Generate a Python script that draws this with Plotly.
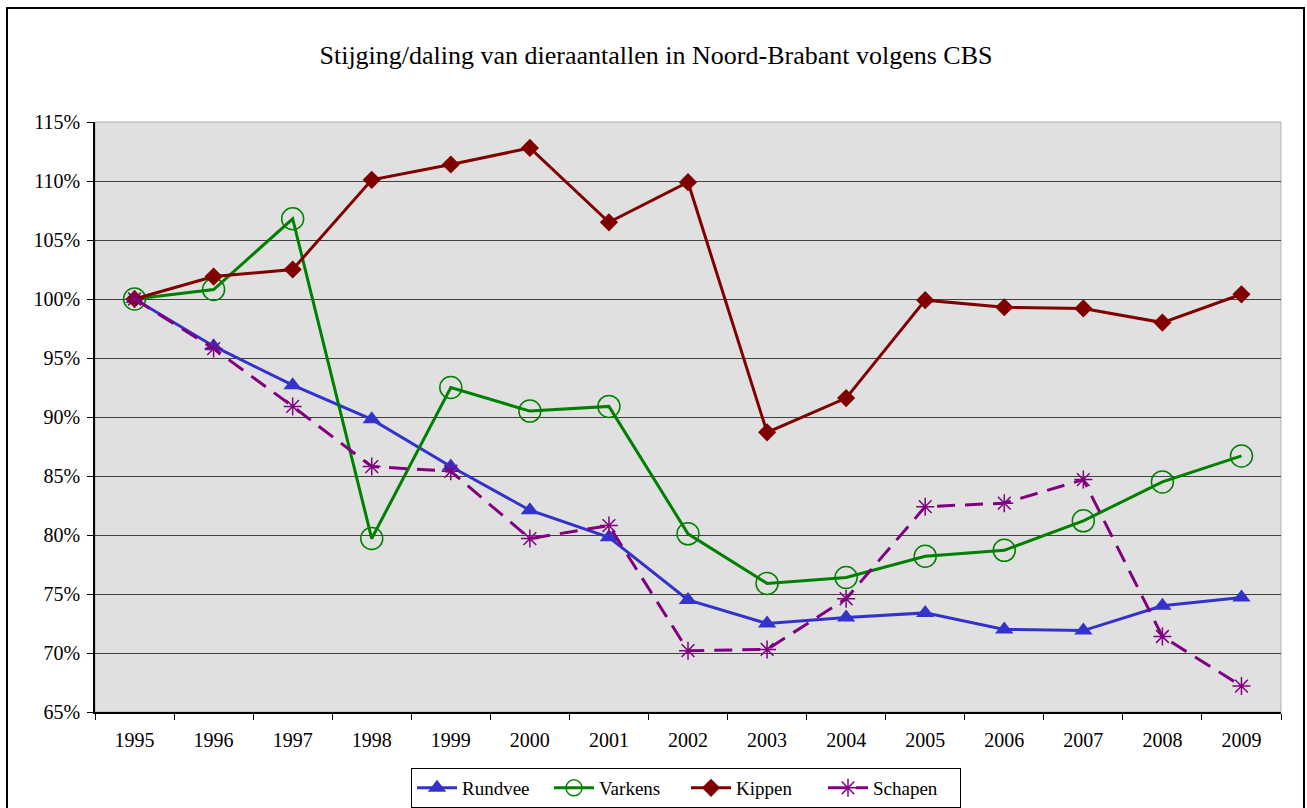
import plotly.graph_objects as go

years = [str(y) for y in range(1995, 2010)]
rundvee = [100, 96.0, 92.7, 89.8, 85.8, 82.1, 79.8, 74.5, 72.5, 73.0, 73.4, 72.0, 71.9, 74.0, 74.7]
varkens = [100, 100.8, 106.8, 79.7, 92.5, 90.5, 90.9, 80.1, 75.9, 76.4, 78.2, 78.7, 81.2, 84.5, 86.7]
kippen = [100, 101.9, 102.5, 110.1, 111.4, 112.8, 106.5, 109.9, 88.7, 91.6, 99.9, 99.3, 99.2, 98.0, 100.4]
schapen = [100, 95.8, 90.9, 85.8, 85.4, 79.7, 80.8, 70.2, 70.3, 74.6, 82.4, 82.7, 84.7, 71.4, 67.2]
y_ticks = [65, 70, 75, 80, 85, 90, 95, 100, 105, 110, 115]
y_labels = [f"{v}%" for v in y_ticks]

FONT = "Liberation Serif"

fig = go.Figure()
fig.add_trace(go.Scatter(x=years, y=rundvee, name="Rundvee", mode="lines+markers",
                         line=dict(color="#3333CC", width=3),
                         marker=dict(symbol="triangle-up", size=16, color="#3333CC")))
fig.add_trace(go.Scatter(x=years, y=varkens, name="Varkens", mode="lines+markers",
                         line=dict(color="#008000", width=3),
                         marker=dict(symbol="circle-open", size=22, color="#008000", line=dict(width=1.5))))
fig.add_trace(go.Scatter(x=years, y=kippen, name="Kippen", mode="lines+markers",
                         line=dict(color="#800000", width=3),
                         marker=dict(symbol="diamond", size=14, color="#800000")))
fig.add_trace(go.Scatter(x=years, y=schapen, name="Schapen", mode="lines+markers",
                         line=dict(color="#800080", width=3, dash="18px,10px"),
                         marker=dict(symbol="asterisk-open", size=15, color="#800080", line=dict(width=1.5, color="#800080"))))

W, H = 1307, 808
L, R, T, B = 95, 1281, 122, 712

def px_x(px):
    return (px - L) / (R - L)

def px_y(py):
    return (B - py) / (B - T)

fig.update_layout(
    width=W, height=H,
    margin=dict(l=L, r=W - R, t=T, b=H - B, autoexpand=False),
    paper_bgcolor="white",
    plot_bgcolor="#E0E0E0",
    font=dict(family=FONT, size=20, color="black"),
    title=dict(text="Stijging/daling van dieraantallen in Noord-Brabant volgens CBS",
               x=px_x(656), xref="paper", xanchor="center", y=1 - 55 / H, yanchor="middle",
               font=dict(family=FONT, size=26, color="black")),
    showlegend=True,
    legend=dict(orientation="h", x=px_x(686), xanchor="center", y=px_y(768), yanchor="top",
                bordercolor="black", borderwidth=1, bgcolor="white",
                font=dict(family=FONT, size=19), itemwidth=40, tracegroupgap=0,
                entrywidth=82, entrywidthmode="pixels"),
    xaxis=dict(type="category", range=[-0.5, 14.5], showgrid=False,
               showline=True, linecolor="black", linewidth=1.5,
               ticks="outside", tickson="boundaries", ticklen=6, tickcolor="black",
               ticklabelstandoff=9,
               tickfont=dict(family=FONT, size=20), mirror=False, zeroline=False),
    yaxis=dict(range=[65, 115], tickvals=y_ticks, ticktext=y_labels,
               showgrid=True, gridcolor="#404040", gridwidth=1,
               showline=True, linecolor="black", linewidth=1.5,
               ticks="outside", ticklen=6, tickcolor="black",
               ticklabelstandoff=3,
               tickfont=dict(family=FONT, size=20), zeroline=False),
    shapes=[
        dict(type="rect", xref="paper", yref="paper", x0=0, x1=1, y0=0, y1=1,
             line=dict(color="#B0B0B0", width=1), fillcolor="rgba(0,0,0,0)", layer="below"),
        dict(type="rect", xref="paper", yref="paper",
             x0=px_x(7), x1=px_x(1304), y0=px_y(812), y1=px_y(8),
             line=dict(color="black", width=2), fillcolor="rgba(0,0,0,0)"),
    ],
)

fig.write_html("out.html", config={"displayModeBar": False},
               post_script="document.body.style.margin='0';")
